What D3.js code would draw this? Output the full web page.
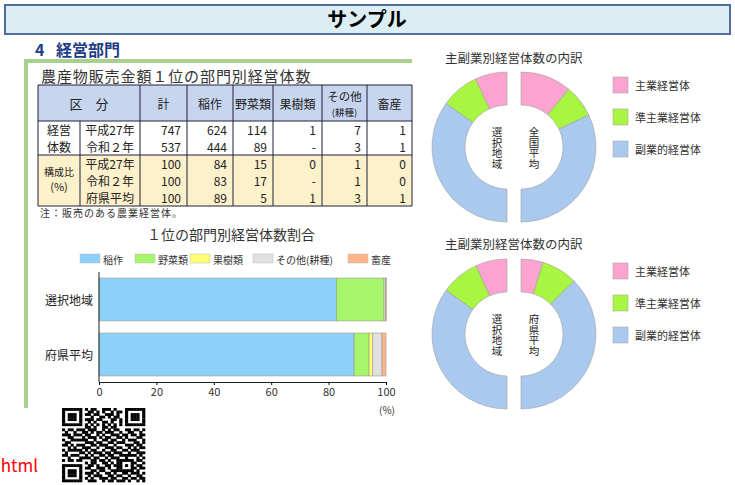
<!DOCTYPE html>
<html>
<head>
<meta charset="utf-8">
<script src="https://cdn.jsdelivr.net/npm/d3@7"></script>
<style>
  body { margin: 0; background: #fff; }
  svg { display: block; }
</style>
</head>
<body>
<div id="chart"></div>
<script>
// ---- data ----
var tableCols = ['計', '稲作', '野菜類', '果樹類', 'その他', '畜産']
var countRows = ['平成27年', '令和２年']
var countValues = [[747, 624, 114, 1, 7, 1], [537, 444, 89, '-', 3, 1]]
var ratioRows = ['平成27年', '令和２年', '府県平均']
var ratioValues = [[100, 84, 15, 0, 1, 0], [100, 83, 17, '-', 1, 0], [100, 89, 5, 1, 3, 1]]

var barCategories = ['選択地域', '府県平均']
var barSeries = ['稲作', '野菜類', '果樹類', 'その他(耕種)', '畜産']
var barValues = [[82.7, 16.6, 0, 0.6, 0.2], [88.9, 5.2, 1.3, 3.2, 1.4]]
var barTicks = [0, 20, 40, 60, 80, 100]

var donutKeys = ['主業経営体', '準主業経営体', '副業的経営体']
var donutTopLeft = [13.8, 16.5, 69.7]    // 選択地域
var donutTopRight = [22.0, 14.0, 64.0]   // 全国平均
var donutBottomLeft = [13.6, 16.6, 69.8] // 選択地域
var donutBottomRight = [9.5, 15.5, 75.0] // 府県平均

var qrRows = [
  '11111110101100111010001111111',
  '10000010011010100101101000001',
  '10111010110110011101001011101',
  '10111010001001101011001011101',
  '10111010111011000110101011101',
  '10000010010100110100101000001',
  '11111110101010101010101111111',
  '00000000110100110110000000000',
  '10110111011100101011001101101',
  '01001001101011011100100110010',
  '11101110110010100111011011011',
  '00110001011101011001101000110',
  '10011111100100110110010111001',
  '01100000111011001101110001101',
  '11010111001101110010001110110',
  '00101001110010011101100101011',
  '10111110101100100110011011100',
  '01000011010111011011100100111',
  '11011100101001101100111111010',
  '00100011110110010111001000101',
  '10110110001101101001111110110',
  '00000000101100110101100011001',
  '11111110011010011011101010110',
  '10000010110011101001100011011',
  '10111010001101100111111110100',
  '10111010111010011010011011101',
  '10111010010111001101100100110',
  '10000010101001110110011011011',
  '11111110011100101101110100101'
]

var font = "'Noto Sans CJK JP', 'Noto Sans', sans-serif"

var svg = d3.select('#chart').append('svg')
    .attr('width', 735)
    .attr('height', 485)
    .style('font-family', font)

// ---- title bar ----
svg.append('rect')
    .attr('x', 5).attr('y', 5).attr('width', 725).attr('height', 29)
    .attr('fill', '#daeef4').attr('stroke', '#4f6e9e').attr('stroke-width', 2)
svg.append('text')
    .attr('x', 367).attr('y', 27)
    .attr('text-anchor', 'middle')
    .style('font-size', '20px').style('font-weight', 'bold')
    .text('サンプル')

// ---- left section frame ----
svg.append('text')
    .attr('x', 35).attr('y', 56)
    .style('font-size', '16px').style('font-weight', 'bold')
    .attr('fill', '#1f3c88')
    .text('4')
svg.append('text')
    .attr('x', 56).attr('y', 56)
    .style('font-size', '16px').style('font-weight', 'bold')
    .attr('fill', '#1f3c88')
    .text('経営部門')
svg.append('rect').attr('x', 24).attr('y', 59).attr('width', 388).attr('height', 4).attr('fill', '#a9d18e')
svg.append('rect').attr('x', 24).attr('y', 59).attr('width', 4).attr('height', 349).attr('fill', '#a9d18e')

svg.append('text')
    .attr('x', 41).attr('y', 82)
    .style('font-size', '15px').style('letter-spacing', '0.9px')
    .attr('fill', '#333')
    .text('農産物販売金額１位の部門別経営体数')

// ---- table ----
var colX = [38, 80, 140, 187, 233, 273, 322, 367, 412]
var yHead = 85, yBody = 121, yMid = 155, rowH = 17, yEnd = 206
var lineColor = '#20203a'
var tbl = svg.append('g')

tbl.append('rect').attr('x', colX[0]).attr('y', yHead).attr('width', colX[8] - colX[0]).attr('height', yBody - yHead).attr('fill', '#c7d5ef')
tbl.append('rect').attr('x', colX[0]).attr('y', yMid).attr('width', colX[8] - colX[0]).attr('height', yEnd - yMid).attr('fill', '#fdf1cb')

function hline(y) {
  tbl.append('line').attr('x1', colX[0]).attr('x2', colX[8]).attr('y1', y).attr('y2', y)
      .attr('stroke', lineColor).attr('stroke-width', 1)
}
function vline(x, y1, y2) {
  tbl.append('line').attr('x1', x).attr('x2', x).attr('y1', y1).attr('y2', y2)
      .attr('stroke', lineColor).attr('stroke-width', 1)
}
;[yHead, yBody, yMid, yEnd].forEach(hline)
colX.forEach(function(x, i) {
  if (i == 1) vline(x, yBody, yEnd)
  else vline(x, yHead, yEnd)
})

function cellText(x, y, t, anchor, size) {
  tbl.append('text')
      .attr('x', x).attr('y', y)
      .attr('text-anchor', anchor || 'middle')
      .attr('dominant-baseline', 'central')
      .style('font-size', (size || 12) + 'px')
      .attr('fill', '#222')
      .text(t)
}

// header
cellText((colX[0] + colX[2]) / 2, (yHead + yBody) / 2, '区　分', 'middle', 13)
tableCols.forEach(function(c, i) {
  var cx = (colX[i + 2] + colX[i + 3]) / 2
  if (c == 'その他') {
    cellText(cx, 95.5, 'その他', 'middle', 11.5)
    cellText(cx, 112, '(耕種)', 'middle', 9.5)
  } else {
    cellText(cx, (yHead + yBody) / 2, c, 'middle', 12)
  }
})

// count rows
cellText((colX[0] + colX[1]) / 2, yBody + rowH / 2, '経営', 'middle', 12)
cellText((colX[0] + colX[1]) / 2, yBody + rowH * 1.5, '体数', 'middle', 12)
countRows.forEach(function(r, j) {
  var cy = yBody + rowH * (j + 0.5)
  cellText((colX[1] + colX[2]) / 2, cy, r, 'middle', 12)
  countValues[j].forEach(function(v, i) {
    cellText(colX[i + 3] - 6, cy, v, 'end', 12)
  })
})

// ratio rows
cellText((colX[0] + colX[1]) / 2, 171, '構成比', 'middle', 10)
cellText((colX[0] + colX[1]) / 2, 186, '(%)', 'middle', 11)
ratioRows.forEach(function(r, j) {
  var cy = yMid + rowH * (j + 0.5)
  cellText((colX[1] + colX[2]) / 2, cy, r, 'middle', 12)
  ratioValues[j].forEach(function(v, i) {
    cellText(colX[i + 3] - 6, cy, v, 'end', 12)
  })
})

svg.append('text')
    .attr('x', 40).attr('y', 217)
    .style('font-size', '10px').style('letter-spacing', '1px')
    .attr('fill', '#333')
    .text('注：販売のある農業経営体。')

// ---- stacked bar chart ----
var barColors = ['#8dd1fa', '#a6f56b', '#ffff73', '#e1e1e1', '#ffb489']

svg.append('text')
    .attr('x', 231).attr('y', 240)
    .attr('text-anchor', 'middle')
    .style('font-size', '14px')
    .attr('fill', '#333')
    .text('１位の部門別経営体数割合')

var legendX = [80, 135, 190, 253, 348]
barSeries.forEach(function(s, i) {
  svg.append('rect')
      .attr('x', legendX[i]).attr('y', 254).attr('width', 20).attr('height', 9)
      .attr('fill', barColors[i]).attr('stroke', '#bbb').attr('stroke-width', 0.5)
  svg.append('text')
      .attr('x', legendX[i] + 23).attr('y', 259)
      .attr('dominant-baseline', 'central')
      .style('font-size', '10px')
      .attr('fill', '#333')
      .text(s)
})

var xScale = d3.scaleLinear().domain([0, 100]).range([99, 386])
var yScale = d3.scaleBand().domain(barCategories).range([272, 382])
    .paddingInner(0.22).paddingOuter(0.11)

var table = barCategories.map(function(c, j) {
  var row = { cat: c }
  barSeries.forEach(function(s, i) { row[s] = barValues[j][i] })
  return row
})
var stacked = d3.stack().keys(barSeries)(table)

svg.append('g').selectAll('g')
    .data(stacked)
    .enter()
    .append('g')
    .attr('fill', function(d, i) { return barColors[i] })
    .selectAll('rect')
    .data(function(d) { return d })
    .enter()
    .append('rect')
    .attr('x', function(d) { return xScale(d[0]) })
    .attr('width', function(d) { return xScale(d[1]) - xScale(d[0]) })
    .attr('y', function(d) { return yScale(d.data.cat) })
    .attr('height', yScale.bandwidth())
    .attr('stroke', '#9a9a8a').attr('stroke-width', 0.6)

var xAxis = svg.append('g')
    .attr('transform', 'translate(0,382)')
    .call(d3.axisBottom(xScale).tickValues(barTicks).tickSize(3).tickSizeOuter(0))
xAxis.selectAll('text').style('font-size', '11px').style('font-family', font).attr('fill', '#333').attr('dy', '0.75em')
xAxis.select('.domain').attr('stroke', '#222')

svg.append('line').attr('x1', 99).attr('x2', 99).attr('y1', 272).attr('y2', 382).attr('stroke', '#222')
svg.append('text')
    .attr('x', 387).attr('y', 414)
    .attr('text-anchor', 'middle')
    .style('font-size', '10px')
    .attr('fill', '#333')
    .text('(%)')

barCategories.forEach(function(c) {
  svg.append('text')
      .attr('x', 93).attr('y', yScale(c) + yScale.bandwidth() / 2)
      .attr('text-anchor', 'end')
      .attr('dominant-baseline', 'central')
      .style('font-size', '12px')
      .attr('fill', '#222')
      .text(c)
})

// ---- split donuts ----
var donutColors = ['#fca3d0', '#a8f542', '#a9c9ef']
var arc = d3.arc().innerRadius(42).outerRadius(75)

function halfDonut(cx, cy, values, left) {
  var pie = d3.pie().sort(null).startAngle(0).endAngle(left ? -Math.PI : Math.PI)
  svg.append('g')
      .attr('transform', 'translate(' + cx + ',' + cy + ')')
      .selectAll('path')
      .data(pie(values))
      .enter()
      .append('path')
      .attr('d', arc)
      .attr('fill', function(d, i) { return donutColors[i] })
      .attr('stroke', '#a0a0a0').attr('stroke-width', 0.6)
}

// vertical text (one element, written top to bottom)
function verticalLabel(x, cy, t) {
  svg.append('text')
      .attr('x', x).attr('y', cy)
      .attr('text-anchor', 'middle')
      .style('writing-mode', 'vertical-rl')
      .style('font-size', '10.5px')
      .attr('fill', '#222')
      .text(t)
}

function donutBlock(cy, leftVals, rightVals, rightName, titleY, legendY) {
  svg.append('text')
      .attr('x', 445).attr('y', titleY)
      .attr('dominant-baseline', 'central')
      .style('font-size', '12.5px')
      .attr('fill', '#333')
      .text('主副業別経営体数の内訳')
  halfDonut(507, cy, leftVals, true)
  halfDonut(521, cy, rightVals, false)
  verticalLabel(497, cy + 1, '選択地域')
  verticalLabel(534, cy + 1, rightName)
  donutKeys.forEach(function(k, i) {
    var ly = legendY + i * 32
    svg.append('rect')
        .attr('x', 613).attr('y', ly - 8).attr('width', 15).attr('height', 16)
        .attr('fill', donutColors[i]).attr('stroke', '#aaa').attr('stroke-width', 0.6)
    svg.append('text')
        .attr('x', 635).attr('y', ly)
        .attr('dominant-baseline', 'central')
        .style('font-size', '11px')
        .attr('fill', '#333')
        .text(k)
  })
}

donutBlock(147, donutTopLeft, donutTopRight, '全国平均', 57, 85)
donutBlock(334, donutBottomLeft, donutBottomRight, '府県平均', 243, 271)

// ---- footer: link text and QR ----
svg.append('text')
    .attr('x', 38).attr('y', 472)
    .attr('text-anchor', 'end')
    .style('font-size', '17px')
    .attr('fill', '#ff0000')
    .text('html')

var qrX = d3.scaleLinear().domain([0, 29]).range([62, 145])
var qrY = d3.scaleLinear().domain([0, 29]).range([408, 482])
var qrCells = []
qrRows.forEach(function(row, r) {
  row.split('').forEach(function(b, c) {
    if (b == '1') qrCells.push({ r: r, c: c })
  })
})
svg.append('g').selectAll('rect')
    .data(qrCells)
    .enter()
    .append('rect')
    .attr('x', function(d) { return qrX(d.c) })
    .attr('y', function(d) { return qrY(d.r) })
    .attr('width', qrX(1) - qrX(0) + 0.3)
    .attr('height', qrY(1) - qrY(0) + 0.3)
    .attr('fill', '#000')
</script>
</body>
</html>
